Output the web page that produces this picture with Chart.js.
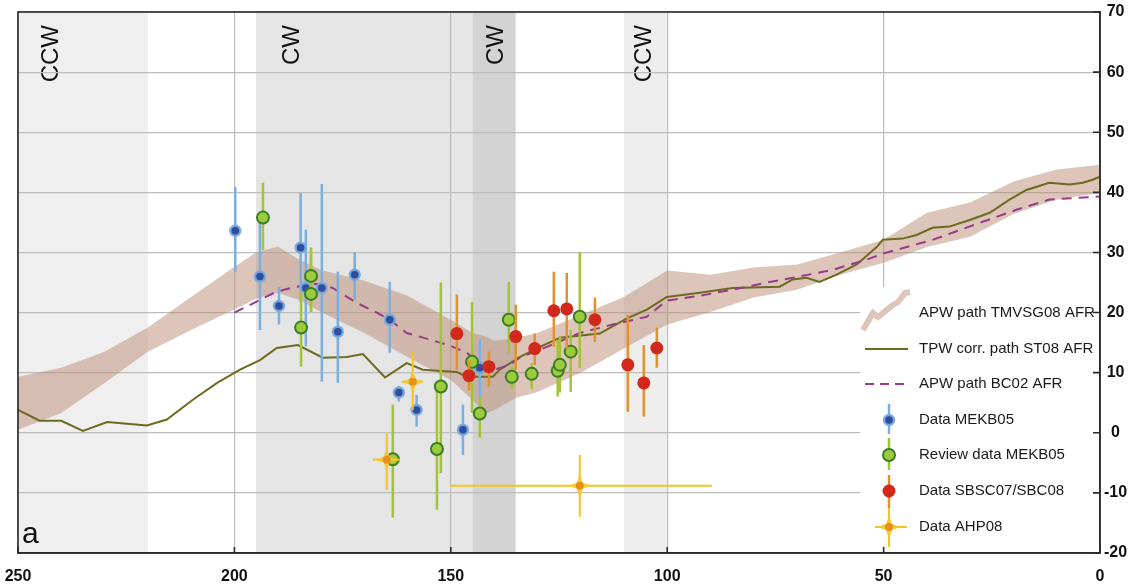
<!DOCTYPE html>
<html><head><meta charset="utf-8">
<script src="https://cdn.jsdelivr.net/npm/chart.js@4/dist/chart.umd.min.js"></script>
<style>html,body{margin:0;padding:0;background:#fff;}canvas{display:block;}</style>
</head><body>
<canvas id="c" width="1141" height="588"></canvas>
<script>
// ---------- data ----------
const xTicks = [250, 200, 150, 100, 50, 0];
const yTicks = [-20, -10, 0, 10, 20, 30, 40, 50, 60, 70];

// APW path TMVSG08 AFR (band)
const bandAge   = [250,240,230,220,210,200,195,190,185,180,170,160,150,145,142,140,135,130,120,110,100,90,80,70,60,50,40,30,20,10,0];
const bandUpper = [9.3,10.8,13.5,17.5,22.6,27.6,30.0,31.0,28.8,27.1,25.3,22.8,18.8,16.6,16.0,15.3,15.8,16.6,19.6,22.6,27.0,26.3,27.5,28.0,30.0,32.1,36.6,38.3,41.8,43.8,44.6];
const bandLower = [0.5,3.3,8.3,13.5,17.1,20.5,22.3,23.3,22.1,20.1,16.6,12.6,8.8,5.5,3.2,3.8,5.8,6.8,10.0,14.0,18.0,20.1,22.5,23.8,26.3,28.3,30.9,32.6,36.4,38.8,39.9];

// TPW corr. path ST08 AFR
const st08Age = [250,245,240,235,229.4,224.8,220.2,215.6,209.6,204,198.7,194.1,190.2,185.3,179.6,174,170.3,165.2,160.2,156.5,148.6,146.3,140.3,138.7,134.1,129.4,124.8,115.6,109.4,104.7,100.1,92.5,84.9,74,71,67.8,64.8,60.9,56.2,51.6,50.2,45.6,42.4,38.7,34.8,30.1,25.5,20.9,17,11.7,7,4,1.7,0];
const st08Lat = [3.8,2.0,2.0,0.3,1.8,1.5,1.2,2.2,5.5,8.3,10.5,12.1,14.1,14.6,12.5,12.6,13.1,9.2,11.6,10.5,10.1,9.3,9.3,10.5,12.6,14.3,15.8,16.5,19.0,20.5,22.6,23.3,24.1,24.3,25.5,25.8,25.1,26.3,28.0,30.9,32.1,32.3,32.9,34.1,34.3,35.4,36.6,38.8,40.4,41.6,41.3,41.6,42.1,42.6];

// APW path BC02 AFR
const bc02Age = [200,194.1,190.2,185.6,181,177.3,171.7,167.1,164.1,160.2,154.8,150.2,146.3,143.3,139.4,136.4,134.1,127.8,120.2,112.6,104.7,100.1,92.5,84.9,77,69.4,61.8,53.9,50.2,38.7,27.1,19.3,11.7,0];
const bc02Lat = [20.0,22.1,23.5,24.3,24.8,24.1,21.6,20.0,18.8,16.6,15.5,14.5,13.3,11.6,10.6,11.3,12.5,14.3,16.6,18.0,19.3,22.0,22.8,23.8,25.0,26.0,27.1,28.8,29.8,32.1,35.1,37.1,38.8,39.3];

// Data MEKB05
const mekbAge = [199.8,194.1,189.7,184.7,183.5,179.8,176.1,172.2,164.1,162.0,157.9,147.2,143.3];
const mekbLat = [33.6,26.0,21.1,30.8,24.1,24.1,16.8,26.3,18.8,6.7,3.8,0.5,10.8];
const mekbLo  = [26.8,17.1,18.0,21.7,14.4,8.5,8.3,22.1,13.3,5.2,1.0,-3.7,5.5];
const mekbHi  = [40.9,34.9,24.3,39.9,33.8,41.4,26.8,30.0,25.1,7.7,6.3,4.7,15.5];

// Review data MEKB05
const revAge = [193.4,182.3,182.3,184.6,163.4,153.2,152.3,145.1,143.3,136.6,135.9,131.3,125.3,124.8,122.3,120.2];
const revLat = [35.8,26.1,23.1,17.5,-4.4,-2.7,7.7,11.8,3.2,18.8,9.3,9.8,10.3,11.3,13.5,19.3];
const revLo  = [30.4,20.1,20.1,11.0,-14.1,-12.8,-6.7,3.3,-0.8,13.3,7.2,7.2,6.0,6.7,6.8,10.8];
const revHi  = [41.6,30.8,30.8,23.5,4.7,7.7,25.0,21.8,6.0,25.1,11.0,11.6,15.5,16.0,17.1,30.1];

// Data SBSC07/SBC08
const sbscAge = [148.6,145.8,141.2,135.0,130.6,126.2,123.2,116.7,109.1,105.4,102.4];
const sbscLat = [16.5,9.5,11.0,16.0,14.0,20.3,20.6,18.8,11.3,8.3,14.1];
const sbscLo  = [10.5,7.0,7.7,10.5,11.3,14.3,13.8,15.1,3.5,2.7,10.8];
const sbscHi  = [23.0,12.1,13.5,21.3,16.5,26.8,26.6,22.5,19.6,14.6,17.5];

// Data AHP08
const ahpAge   = [164.8,158.8,120.2];
const ahpLat   = [-4.5,8.5,-8.8];
const ahpLo    = [-9.5,3.8,-14.0];
const ahpHi    = [0.0,13.5,-3.7];
const ahpAgeLo = [168.0,161.3,150.2];
const ahpAgeHi = [161.8,156.5,89.7];

// rotation intervals
const rotFrom   = [250,195,145,110];
const rotTo     = [220,145,135,100];
const rotLabels = ['CCW','CW','CW','CCW'];
const rotLabelAge = [242.4,186.7,139.4,105.2];

const legendLabels = ['APW path TMVSG08 AFR','TPW corr. path ST08 AFR','APW path BC02 AFR','Data MEKB05','Review data MEKB05','Data SBSC07/SBC08','Data AHP08'];

// ---------- styles ----------
const FONT = '"Liberation Sans", Arial, Helvetica, sans-serif';
const C = {
  band: 'rgba(190,140,115,0.5)',
  olive: '#6d6a1f',
  purple: '#9a3a8c',
  blueFill: '#2f4d9d', blueEdge: 'rgba(120,170,225,0.9)', blueBar: '#7aafe0',
  greenFill: '#9ccc3c', greenEdge: '#3b7d26', greenBar: '#a3c43a',
  redFill: '#d2281c', redBar: '#e3912a',
  yelFill: '#e8901a', yelBar: '#f2c521',
  shade: ['#efefef','#e5e5e5','#d3d3d3','#eeeeee']
};

const pts = (a, l) => a.map((v,i)=>({x:v, y:l[i]}));
const errPts = (a,l,lo,hi,xlo,xhi) => a.map((v,i)=>{
  const p = {x:v, y:l[i], lo:lo[i], hi:hi[i]};
  if (xlo) { p.xlo = xlo[i]; p.xhi = xhi[i]; }
  return p;
});

// ---------- plugins ----------
const shadePlugin = {
  id: 'shade',
  beforeDraw(chart) {
    const {ctx, chartArea: a, scales: {x}} = chart;
    ctx.save();
    rotFrom.forEach((f,i)=>{
      const x1 = x.getPixelForValue(f), x2 = x.getPixelForValue(rotTo[i]);
      ctx.fillStyle = C.shade[i];
      ctx.fillRect(Math.min(x1,x2), a.top, Math.abs(x2-x1), a.bottom - a.top);
    });
    ctx.fillStyle = '#111';
    ctx.font = '24px ' + FONT;
    ctx.textAlign = 'right';
    ctx.textBaseline = 'middle';
    rotLabels.forEach((t,i)=>{
      ctx.save();
      ctx.translate(x.getPixelForValue(rotLabelAge[i]), a.top + 13);
      ctx.rotate(-Math.PI/2);
      ctx.fillText(t, 0, 0);
      ctx.restore();
    });
    ctx.restore();
  }
};

function drawStar(ctx, px, py, r, ri, color) {
  ctx.fillStyle = color;
  ctx.beginPath();
  ctx.moveTo(px - r, py); ctx.lineTo(px - ri, py - ri); ctx.lineTo(px, py - r); ctx.lineTo(px + ri, py - ri);
  ctx.lineTo(px + r, py); ctx.lineTo(px + ri, py + ri); ctx.lineTo(px, py + r); ctx.lineTo(px - ri, py + ri);
  ctx.closePath(); ctx.fill();
}

const errPlugin = {
  id: 'errbars',
  beforeDatasetDraw(chart, args) {
    const ds = chart.data.datasets[args.index];
    if (!ds.err) return;
    const ctx = chart.ctx, xs = chart.scales.x, ys = chart.scales.y;
    ctx.save();
    ctx.strokeStyle = ds.err.color; ctx.lineWidth = ds.err.width;
    ds.data.forEach(p=>{
      const px = xs.getPixelForValue(p.x), py = ys.getPixelForValue(p.y);
      ctx.beginPath();
      ctx.moveTo(px, ys.getPixelForValue(p.lo)); ctx.lineTo(px, ys.getPixelForValue(p.hi));
      if (p.xlo !== undefined) { ctx.moveTo(xs.getPixelForValue(p.xlo), py); ctx.lineTo(xs.getPixelForValue(p.xhi), py); }
      ctx.stroke();
      if (ds.err.star) drawStar(ctx, px, py, 12, 3, 'rgba(245,200,40,0.9)');
    });
    ctx.restore();
  }
};

const framePlugin = {
  id: 'frame',
  afterDatasetsDraw(chart) {
    const {ctx, chartArea: a} = chart;
    // legend box
    const L = a.right - 240, T = a.bottom - 266;
    ctx.save();
    ctx.fillStyle = '#fff';
    ctx.fillRect(L, T, 238, 262);
    const tx = L + 59;
    const ys = [26, 62, 97, 133, 168, 204, 240].map(v => T + v);
    // 1 band icon
    ctx.strokeStyle = C.band; ctx.lineWidth = 6; ctx.lineJoin = 'miter';
    ctx.beginPath();
    const zz = [[3,43],[13,26],[18,30],[33,18],[38,15],[45,6],[50,5]];
    zz.forEach((p,i)=>{ const X = L + p[0], Y = T + p[1]; i ? ctx.lineTo(X,Y) : ctx.moveTo(X,Y); });
    ctx.stroke();
    // 2 olive
    ctx.strokeStyle = C.olive; ctx.lineWidth = 2;
    ctx.beginPath(); ctx.moveTo(L + 5, ys[1]); ctx.lineTo(L + 48, ys[1]); ctx.stroke();
    // 3 purple dashed
    ctx.strokeStyle = C.purple; ctx.setLineDash([9,6]);
    ctx.beginPath(); ctx.moveTo(L + 5, ys[2]); ctx.lineTo(L + 48, ys[2]); ctx.stroke();
    ctx.setLineDash([]);
    const mx = L + 29;
    // 4 blue
    ctx.strokeStyle = C.blueBar; ctx.lineWidth = 2.5;
    ctx.beginPath(); ctx.moveTo(mx, ys[3] - 16); ctx.lineTo(mx, ys[3] + 14); ctx.stroke();
    ctx.beginPath(); ctx.arc(mx, ys[3], 5, 0, 2*Math.PI); ctx.fillStyle = C.blueFill; ctx.fill();
    ctx.strokeStyle = C.blueEdge; ctx.lineWidth = 2.5; ctx.stroke();
    // 5 green
    ctx.strokeStyle = C.greenBar; ctx.lineWidth = 2.5;
    ctx.beginPath(); ctx.moveTo(mx, ys[4] - 17); ctx.lineTo(mx, ys[4] + 15); ctx.stroke();
    ctx.beginPath(); ctx.arc(mx, ys[4], 6, 0, 2*Math.PI); ctx.fillStyle = C.greenFill; ctx.fill();
    ctx.strokeStyle = C.greenEdge; ctx.lineWidth = 2; ctx.stroke();
    // 6 red
    ctx.strokeStyle = C.redBar; ctx.lineWidth = 2.5;
    ctx.beginPath(); ctx.moveTo(mx, ys[5] - 16); ctx.lineTo(mx, ys[5] + 17); ctx.stroke();
    ctx.beginPath(); ctx.arc(mx, ys[5], 6.5, 0, 2*Math.PI); ctx.fillStyle = C.redFill; ctx.fill();
    // 7 yellow
    ctx.strokeStyle = C.yelBar; ctx.lineWidth = 2;
    ctx.beginPath(); ctx.moveTo(mx - 14, ys[6]); ctx.lineTo(mx + 18, ys[6]);
    ctx.moveTo(mx, ys[6] - 19); ctx.lineTo(mx, ys[6] + 20); ctx.stroke();
    drawStar(ctx, mx, ys[6], 12, 3, 'rgba(245,200,40,0.9)');
    ctx.beginPath(); ctx.arc(mx, ys[6], 4, 0, 2*Math.PI); ctx.fillStyle = C.yelFill; ctx.fill();
    // text
    ctx.fillStyle = '#1a1a1a'; ctx.font = '15px ' + FONT;
    ctx.textAlign = 'left'; ctx.textBaseline = 'middle';
    legendLabels.forEach((t,i)=> ctx.fillText(t, tx, ys[i]));
    ctx.restore();
  },
  afterDraw(chart) {
    const {ctx, chartArea: a, scales: {x, y}} = chart;
    ctx.save();
    ctx.strokeStyle = '#2a2a2a'; ctx.lineWidth = 1.6;
    ctx.strokeRect(a.left, a.top, a.right - a.left, a.bottom - a.top);
    ctx.beginPath();
    xTicks.forEach(v => { const px = x.getPixelForValue(v); ctx.moveTo(px, a.bottom); ctx.lineTo(px, a.bottom - 6); });
    yTicks.forEach(v => { const py = y.getPixelForValue(v); ctx.moveTo(a.right, py); ctx.lineTo(a.right - 7, py); });
    ctx.stroke();
    // panel label
    ctx.fillStyle = '#111'; ctx.font = '30px ' + FONT;
    ctx.textAlign = 'left'; ctx.textBaseline = 'alphabetic';
    ctx.fillText('a', a.left + 4, a.bottom - 10);
    ctx.restore();
  }
};

// ---------- chart ----------
const tickFont = {family: FONT, size: 16, weight: 'bold'};
new Chart(document.getElementById('c'), {
  type: 'scatter',
  data: {
    datasets: [
      {label:'bandLower', data: pts(bandAge, bandLower), showLine: true, borderWidth: 0, borderColor: 'rgba(0,0,0,0)', pointRadius: 0, fill: false, order: 20},
      {label: legendLabels[0], data: pts(bandAge, bandUpper), showLine: true, borderWidth: 0, borderColor: 'rgba(0,0,0,0)', pointRadius: 0, fill: 0, backgroundColor: C.band, order: 19},
      {label: legendLabels[1], data: pts(st08Age, st08Lat), showLine: true, borderColor: C.olive, borderWidth: 2, pointRadius: 0, order: 10},
      {label: legendLabels[2], data: pts(bc02Age, bc02Lat), showLine: true, borderColor: C.purple, borderWidth: 2, borderDash: [10,7], pointRadius: 0, order: 9},
      {label: legendLabels[3], data: errPts(mekbAge, mekbLat, mekbLo, mekbHi), err: {color: C.blueBar, width: 2.5},
       pointRadius: 5, backgroundColor: C.blueFill, borderColor: C.blueEdge, borderWidth: 2.5, order: 4},
      {label: legendLabels[4], data: errPts(revAge, revLat, revLo, revHi), err: {color: C.greenBar, width: 2.5},
       pointRadius: 6, backgroundColor: C.greenFill, borderColor: C.greenEdge, borderWidth: 2, order: 3},
      {label: legendLabels[5], data: errPts(sbscAge, sbscLat, sbscLo, sbscHi), err: {color: C.redBar, width: 2.5},
       pointRadius: 6.5, backgroundColor: C.redFill, borderColor: C.redFill, borderWidth: 0, order: 2},
      {label: legendLabels[6], data: errPts(ahpAge, ahpLat, ahpLo, ahpHi, ahpAgeLo, ahpAgeHi), err: {color: C.yelBar, width: 2, star: true},
       pointRadius: 4, backgroundColor: C.yelFill, borderColor: C.yelFill, borderWidth: 0, order: 1}
    ]
  },
  options: {
    responsive: false,
    animation: false,
    devicePixelRatio: 1,
    layout: {padding: {left: 18, top: 12, right: 0, bottom: 0}, autoPadding: false},
    plugins: {legend: {display: false}, tooltip: {enabled: false}},
    elements: {line: {tension: 0}},
    scales: {
      x: {
        type: 'linear', reverse: true, min: 0, max: 250, position: 'bottom',
        afterBuildTicks: s => { s.ticks = xTicks.map(v => ({value: v})); },
        afterFit: s => { s.height = 35; s.paddingLeft = 0; s.paddingRight = 0; },
        grid: {color: '#bdbdbd', lineWidth: 1.2, drawTicks: false},
        border: {display: true, color: '#2a2a2a', width: 1.6},
        ticks: {font: tickFont, color: '#111', padding: 14, maxRotation: 0, autoSkip: false}
      },
      y: {
        type: 'linear', min: -20, max: 70, position: 'right',
        afterBuildTicks: s => { s.ticks = yTicks.map(v => ({value: v})); },
        afterFit: s => { s.width = 41; s.paddingTop = 0; s.paddingBottom = 0; },
        grid: {color: '#bdbdbd', lineWidth: 1.2, drawTicks: false},
        border: {display: true, color: '#2a2a2a', width: 1.6},
        ticks: {font: tickFont, color: '#111', padding: 4, crossAlign: 'center', autoSkip: false}
      }
    }
  },
  plugins: [shadePlugin, errPlugin, framePlugin]
});
</script>
</body></html>
